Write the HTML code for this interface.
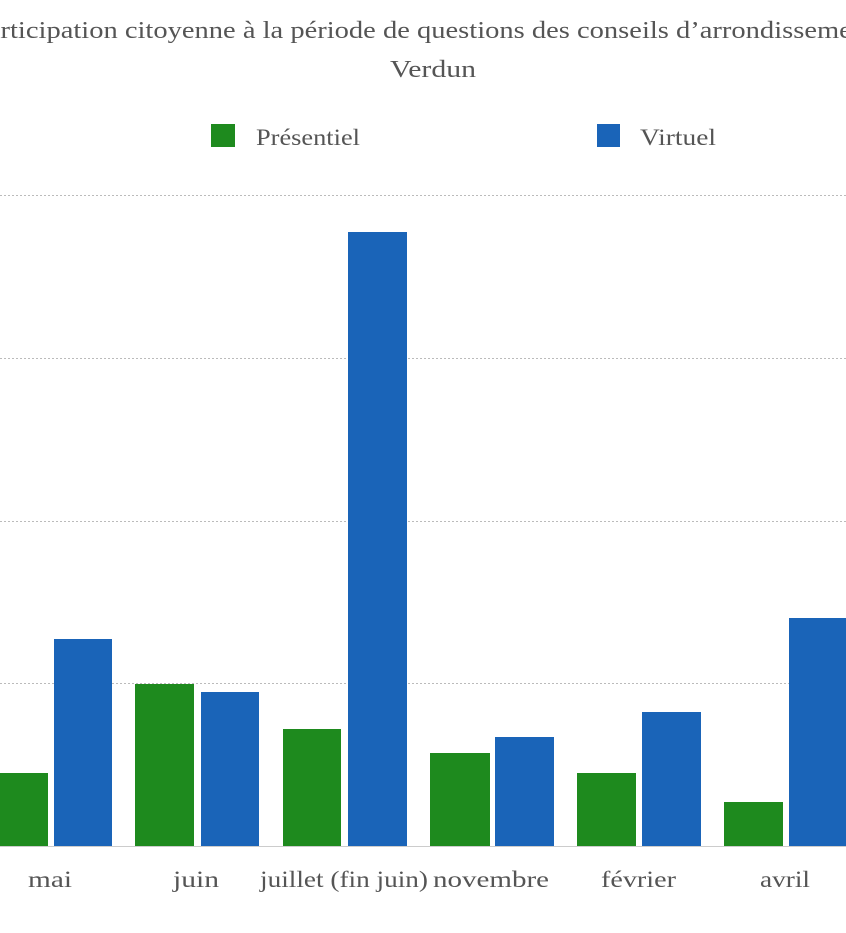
<!DOCTYPE html>
<html><head><meta charset="utf-8"><style>
html,body{margin:0;padding:0;background:#fff;width:846px;height:933px;overflow:hidden}
svg{display:block}
text{font-family:"Liberation Serif",serif;fill:#555}
</style></head><body>
<svg width="846" height="933" viewBox="0 0 846 933">
<text x="-28" y="38" font-size="24" textLength="902" lengthAdjust="spacingAndGlyphs">Participation citoyenne à la période de questions des conseils d’arrondissement</text>
<text x="390" y="77" font-size="24" textLength="86" lengthAdjust="spacingAndGlyphs">Verdun</text>
<rect x="211" y="124" width="24" height="23" fill="#1e8a1e"/>
<text x="256" y="145" font-size="23" textLength="104" lengthAdjust="spacingAndGlyphs">Présentiel</text>
<rect x="597" y="124" width="23" height="23" fill="#1a64b8"/>
<text x="640" y="145" font-size="23" textLength="76" lengthAdjust="spacingAndGlyphs">Virtuel</text>
<g stroke="#bbb" stroke-width="1" stroke-dasharray="2,2">
<line x1="0" y1="195.5" x2="846" y2="195.5"/>
<line x1="0" y1="358.5" x2="846" y2="358.5"/>
<line x1="0" y1="521.5" x2="846" y2="521.5"/>
<line x1="0" y1="683.5" x2="846" y2="683.5"/>
</g>
<g fill="#1e8a1e">
<rect x="-12" y="773" width="60" height="73"/>
<rect x="135" y="684" width="59" height="162"/>
<rect x="283" y="729" width="58" height="117"/>
<rect x="430" y="753" width="60" height="93"/>
<rect x="577" y="773" width="59" height="73"/>
<rect x="724" y="802" width="59" height="44"/>
</g>
<g fill="#1a64b8">
<rect x="54" y="639" width="58" height="207"/>
<rect x="201" y="692" width="58" height="154"/>
<rect x="348" y="232" width="59" height="614"/>
<rect x="495" y="737" width="59" height="109"/>
<rect x="642" y="712" width="59" height="134"/>
<rect x="789" y="618" width="60" height="228"/>
</g>
<line x1="0" y1="846.5" x2="846" y2="846.5" stroke="#ccc" stroke-width="1"/>
<g font-size="23" lengthAdjust="spacingAndGlyphs">
<text x="28" y="887" textLength="44" lengthAdjust="spacingAndGlyphs">mai</text>
<text x="173" y="887" textLength="46" lengthAdjust="spacingAndGlyphs">juin</text>
<text x="260" y="887" textLength="168" lengthAdjust="spacingAndGlyphs">juillet (fin juin)</text>
<text x="433" y="887" textLength="116" lengthAdjust="spacingAndGlyphs">novembre</text>
<text x="601" y="887" textLength="75" lengthAdjust="spacingAndGlyphs">février</text>
<text x="760" y="887" textLength="50" lengthAdjust="spacingAndGlyphs">avril</text>
</g>
</svg>
</body></html>
